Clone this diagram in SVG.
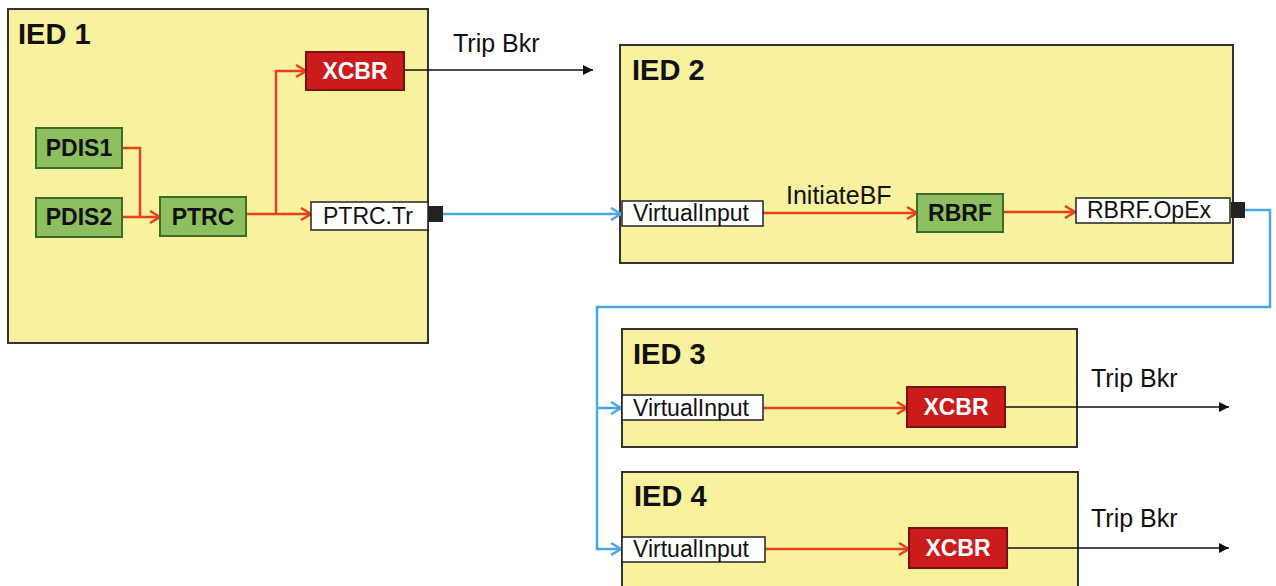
<svg xmlns="http://www.w3.org/2000/svg" width="1276" height="586" viewBox="0 0 1276 586">
<defs>
<style>
.ied{fill:#f8f19d;stroke:#333;stroke-width:2}
.lbl{font-family:"Liberation Sans",Arial,sans-serif;font-weight:bold;font-size:29px;fill:#111}
.g{fill:#8dbf5f;stroke:#3f6a2a;stroke-width:2}
.r{fill:#cc1b1b;stroke:#7a1010;stroke-width:2}
.w{fill:#fff;stroke:#222;stroke-width:1.5}
.port{fill:#222}
.nt{font-family:"Liberation Sans",Arial,sans-serif;font-weight:bold;font-size:23px;fill:#111;text-anchor:middle}
.xt{font-family:"Liberation Sans",Arial,sans-serif;font-weight:bold;font-size:23px;fill:#fff;text-anchor:middle}
.pt{font-family:"Liberation Sans",Arial,sans-serif;font-size:23px;fill:#111}
.tt{font-family:"Liberation Sans",Arial,sans-serif;font-size:25px;fill:#111}
.red{fill:none;stroke:#e8401e;stroke-width:2.5;marker-end:url(#ar)}
.redn{fill:none;stroke:#e8401e;stroke-width:2.5}
.blue{fill:none;stroke:#4aa6e6;stroke-width:2.5}
.blk{fill:none;stroke:#111;stroke-width:1.5;marker-end:url(#ak)}
</style>
<marker id="ar" viewBox="0 0 12 14" refX="11" refY="7" markerWidth="12" markerHeight="14" markerUnits="userSpaceOnUse" orient="auto" overflow="visible">
<path d="M1,1 L11,7 L1,13" fill="none" stroke="#e8401e" stroke-width="2.5"/>
</marker>
<marker id="ab" viewBox="0 0 12 14" refX="11" refY="7" markerWidth="12" markerHeight="14" markerUnits="userSpaceOnUse" orient="auto" overflow="visible">
<path d="M1,1 L11,7 L1,13" fill="none" stroke="#4aa6e6" stroke-width="2.5"/>
</marker>
<marker id="ak" viewBox="0 0 10 10" refX="10" refY="5" markerWidth="10" markerHeight="11" markerUnits="userSpaceOnUse" orient="auto">
<path d="M0,0 L10,5 L0,10 Z" fill="#111"/>
</marker>
</defs>
<rect width="1276" height="586" fill="#fff"/>

<g id="ied1">
<rect class="ied" x="8" y="9" width="420" height="334"/>
<text class="lbl" x="18" y="44">IED 1</text>
</g>
<g id="ied2">
<rect class="ied" x="620" y="45" width="613" height="218"/>
<text class="lbl" x="632" y="80">IED 2</text>
</g>
<g id="ied3">
<rect class="ied" x="622" y="329" width="455" height="118"/>
<text class="lbl" x="633" y="364">IED 3</text>
</g>
<g id="ied4">
<rect class="ied" x="622" y="472" width="456" height="130"/>
<text class="lbl" x="634" y="506">IED 4</text>
</g>

<g id="connectors">
<path class="redn" d="M122,148 H140 V217"/>
<path class="red" d="M122,217 H160"/>
<path class="redn" d="M246,214 H276"/>
<path class="red" d="M276,214 V71 H306"/>
<path class="red" d="M276,214 H311"/>
<path class="blk" d="M404,70 H593"/>
<path class="blue" d="M443,214 H621" marker-end="url(#ab)"/>
<path class="red" d="M763,213 H917"/>
<path class="red" d="M1003,212 H1075"/>
<path class="blue" d="M1245,210 H1270 V307 H597 V549 H621" marker-end="url(#ab)"/>
<path class="blue" d="M597,408 H621" marker-end="url(#ab)"/>
<path class="red" d="M763,408 H907"/>
<path class="red" d="M765,549 H909"/>
<path class="blk" d="M1005,407 H1229"/>
<path class="blk" d="M1007,548 H1229"/>
<text class="tt" x="453" y="52">Trip Bkr</text>
<text class="tt" x="786" y="204">InitiateBF</text>
<text class="tt" x="1091" y="387">Trip Bkr</text>
<text class="tt" x="1091" y="527">Trip Bkr</text>
</g>

<g id="xcbr1">
<rect class="r" x="306" y="52" width="98" height="38"/>
<text class="xt" x="355" y="79">XCBR</text>
</g>
<g id="pdis1">
<rect class="g" x="36" y="128" width="86" height="40"/>
<text class="nt" x="79" y="156">PDIS1</text>
</g>
<g id="pdis2">
<rect class="g" x="36" y="198" width="86" height="39"/>
<text class="nt" x="79" y="225">PDIS2</text>
</g>
<g id="ptrc">
<rect class="g" x="160" y="197" width="86" height="39"/>
<text class="nt" x="203" y="225">PTRC</text>
</g>
<g id="ptrc-tr">
<rect class="w" x="311" y="202" width="117" height="28"/>
<text class="pt" x="323" y="224">PTRC.Tr</text>
<rect class="port" x="429" y="206" width="14" height="16"/>
</g>
<g id="vi2">
<rect class="w" x="622" y="201" width="141" height="25"/>
<text class="pt" x="633" y="221">VirtualInput</text>
</g>
<g id="rbrf">
<rect class="g" x="917" y="194" width="86" height="38"/>
<text class="nt" x="960" y="221">RBRF</text>
</g>
<g id="rbrf-opex">
<rect class="w" x="1076" y="198" width="154" height="25"/>
<text class="pt" x="1087" y="218">RBRF.OpEx</text>
<rect class="port" x="1231" y="202" width="14" height="16"/>
</g>
<g id="vi3">
<rect class="w" x="622" y="395" width="141" height="25"/>
<text class="pt" x="633" y="416">VirtualInput</text>
</g>
<g id="xcbr3">
<rect class="r" x="907" y="387" width="98" height="40"/>
<text class="xt" x="956" y="415">XCBR</text>
</g>
<g id="vi4">
<rect class="w" x="622" y="537" width="143" height="25"/>
<text class="pt" x="633" y="557">VirtualInput</text>
</g>
<g id="xcbr4">
<rect class="r" x="909" y="528" width="98" height="40"/>
<text class="xt" x="958" y="556">XCBR</text>
</g>
</svg>
